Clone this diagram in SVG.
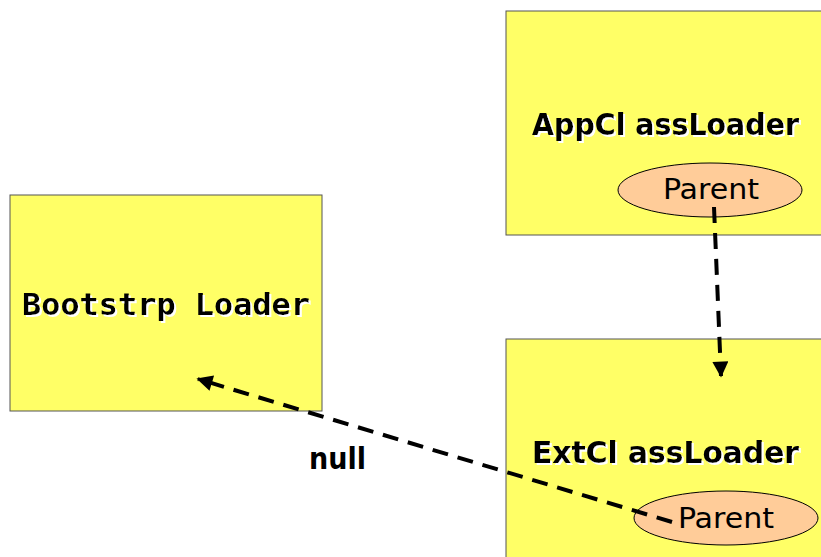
<svg xmlns="http://www.w3.org/2000/svg" width="821" height="557" viewBox="0 0 821 557">
<defs>
<style>
.box{fill:#ffff66;stroke:#555;stroke-width:1}
.ell{fill:#ffcc99;stroke:#000;stroke-width:1}
.t{font-family:"DejaVu Sans Condensed","DejaVu Sans","Liberation Sans",sans-serif;font-size:30px;font-weight:bold;fill:#000}
.sh{filter:url(#ws)}
.mono{font-family:"DejaVu Sans Mono","Liberation Mono",monospace;font-size:30px;font-weight:bold}
.p{font-family:"DejaVu Sans Condensed","DejaVu Sans",sans-serif;font-size:28px;fill:#000}
.c{fill:none;stroke:#000;stroke-width:4;stroke-dasharray:16 10}
</style>
<filter id="ws" x="-5%" y="-20%" width="110%" height="140%">
<feDropShadow dx="2" dy="2" stdDeviation="0" flood-color="#fff" flood-opacity="1"/>
</filter>
<marker id="ah" viewBox="0 0 10 10" refX="9" refY="5" markerWidth="4.5" markerHeight="4" markerUnits="strokeWidth" orient="auto">
<path d="M0,0 L10,5 L0,10 z" fill="#000"/>
</marker>
</defs>
<rect width="821" height="557" fill="#fff"/>
<g id="app">
<rect class="box" x="506" y="11" width="320" height="224"/>
<text class="t sh" x="532" y="135" textLength="267" lengthAdjust="spacingAndGlyphs">AppCl assLoader</text>
<ellipse class="ell" cx="710" cy="190" rx="92" ry="27"/>
<text class="p" x="663" y="199" textLength="96" lengthAdjust="spacingAndGlyphs">Parent</text>
</g>
<g id="boot">
<rect class="box" x="10" y="195" width="312" height="216"/>
<text class="mono sh" x="22" y="315" textLength="288" lengthAdjust="spacingAndGlyphs">Bootstrp Loader</text>
</g>
<g id="ext">
<rect class="box" x="506" y="339" width="320" height="230"/>
<text class="t sh" x="532" y="463" textLength="267" lengthAdjust="spacingAndGlyphs">ExtCl assLoader</text>
<ellipse class="ell" cx="726" cy="518" rx="92" ry="27"/>
<text class="p" x="678" y="528" textLength="96" lengthAdjust="spacingAndGlyphs">Parent</text>
</g>
<g id="connectors">
<path class="c" d="M714,207 L721,376" marker-end="url(#ah)"/>
<path class="c" d="M672,522 L198,379" marker-end="url(#ah)"/>
<text class="t" x="309" y="469" textLength="57" lengthAdjust="spacingAndGlyphs">null</text>
</g>
</svg>
